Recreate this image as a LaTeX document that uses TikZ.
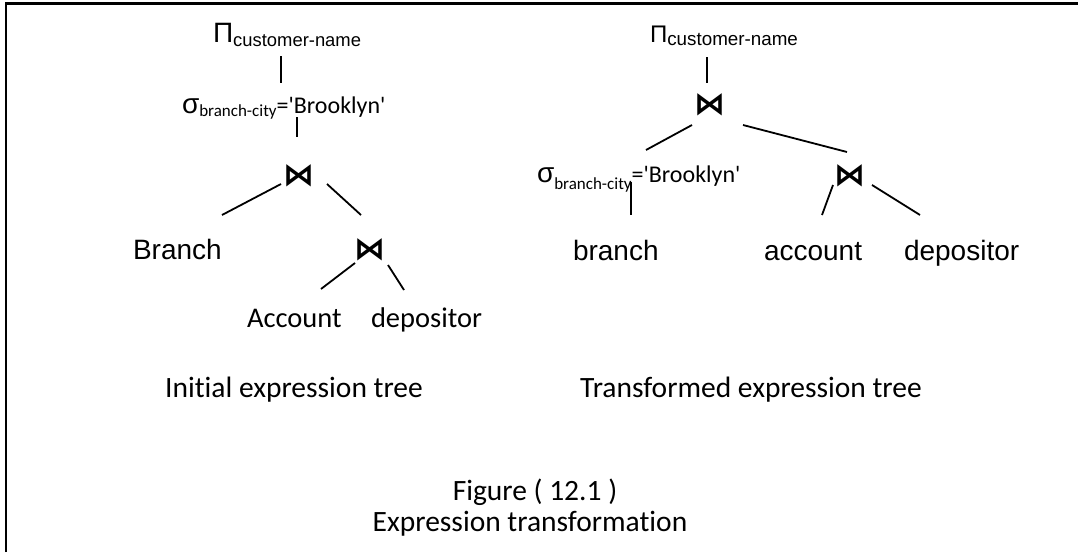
\documentclass[tikz,border=0pt]{standalone}
\usepackage{fontspec}
\setmainfont{Carlito}[Ligatures={TeXOff,NoCommon}]
\newfontfamily\arialf{Liberation Sans}
\newfontfamily\dvs{DejaVu Sans Bold}
\usetikzlibrary{calc}
\newcommand\fs[1]{\fontsize{#1}{#1}\selectfont}
\begin{document}
\begin{tikzpicture}[x=1pt,y=-1pt,
  lbl/.style={anchor=base west,inner sep=0pt,outer sep=0pt},
  joinop/.style={inner sep=0pt,outer sep=0pt,font=\dvs\fs{31}},
  edge/.style={line width=1.8pt},
  frame/.style={line width=2.5pt}]
\useasboundingbox (0,0) rectangle (1078,552);
\draw[frame] (6,552) -- (6,3.5) -- (1078,3.5);

% ---- initial tree
\node[lbl] (pi1) at (213,42) {{\arialf\fs{28}Π}{\arialf\fs{18.4}\raisebox{-4pt}{customer-name}}};
\node[lbl] (sig1) at (182,113) {{\arialf\fs{28}σ}\raisebox{-3.5pt}{\fs{17}branch-city}{\fs{24}='Brooklyn'}};
\node[joinop] (j1) at (299,176) {⋈};
\node[joinop] (j4) at (370,250) {⋈};
\node[lbl] (Branch) at (133,259) {\arialf\fs{28}Branch};
\node[lbl] (Account) at (247,327) {\fs{28.5}Account};
\node[lbl] (dep1) at (371,327) {\fs{28.5}depositor};

\draw[edge] ($(pi1.base west)+(68,14)$) -- ($(sig1.base west)+(99,-30)$);
\draw[edge] ($(sig1.base west)+(115,4)$) -- ($(j1)+(-2,-39)$);
\draw[edge] ($(j1)+(-18,8)$) -- ($(Branch.base west)+(89,-44)$);
\draw[edge] ($(j1)+(28,8)$) -- ($(j4)+(-9,-35)$);
\draw[edge] ($(j4)+(-15,13)$) -- ($(Account.base west)+(74,-38)$);
\draw[edge] ($(j4)+(18,15)$) -- ($(dep1.base west)+(33,-37)$);

% ---- transformed tree
\node[lbl] (pi2) at (650,42) {{\arialf\fs{24}Π}{\arialf\fs{18.8}\raisebox{-3.5pt}{customer-name}}};
\node[joinop] (j2) at (710,105) {⋈};
\node[lbl] (sig2) at (537,182) {{\arialf\fs{28}σ}\raisebox{-7pt}{\fs{17}branch-city}{\fs{24}='Brooklyn'}};
\node[joinop] (j3) at (850,176) {⋈};
\node[lbl] (branch2) at (573,260) {\arialf\fs{28}branch};
\node[lbl] (account2) at (764,260) {\arialf\fs{28}account};
\node[lbl] (dep2) at (904,260) {\arialf\fs{28}depositor};

\draw[edge] ($(pi2.base west)+(57,15)$) -- ($(j2)+(-3,-22)$);
\draw[edge] ($(j2)+(-18,20)$) -- ($(sig2.base west)+(109,-32)$);
\draw[edge] ($(j2)+(33,20)$) -- ($(j3)+(-3,-24)$);
\draw[edge] ($(sig2.base west)+(94,0)$) -- ($(branch2.base west)+(58,-45)$);
\draw[edge] ($(j3)+(-17,9)$) -- ($(account2.base west)+(58,-45)$);
\draw[edge] ($(j3)+(22,9)$) -- ($(dep2.base west)+(16,-45)$);

% ---- captions
\node[anchor=base,inner sep=0pt] (cap1) at (294,397) {\fs{29.5}Initial expression tree};
\node[anchor=base,inner sep=0pt] (cap2) at (751,397) {\fs{29.5}Transformed expression tree};
\node[anchor=base,inner sep=0pt] (fig) at (535,500) {\fs{29.5}Figure ( 12.1 )};
\node[anchor=base,inner sep=0pt] (title) at (530,531) {\fs{29.5}Expression transformation};
\end{tikzpicture}
\end{document}
